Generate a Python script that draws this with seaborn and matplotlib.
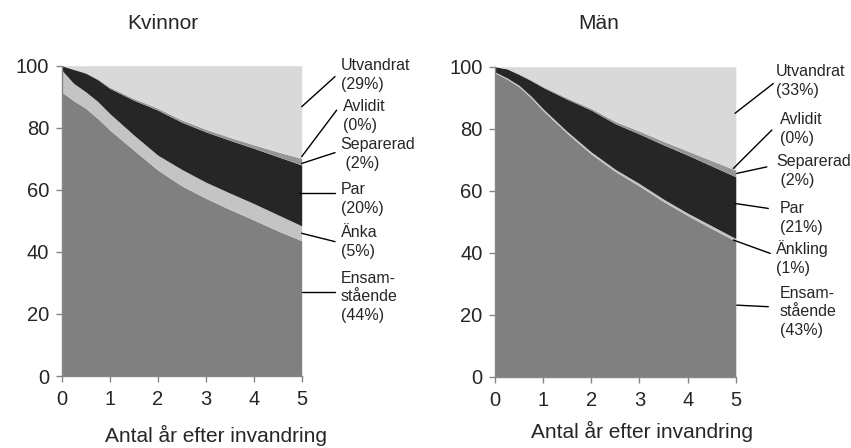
import matplotlib
matplotlib.use("Agg")
import matplotlib.pyplot as plt
import seaborn as sns

# years after immigration
years = [0, 0.25, 0.5, 0.75, 1, 1.5, 2, 2.5, 3, 3.5, 4, 4.5, 5]

# Kvinnor (percent of cohort)
kv_ensam = [91.5, 88.7, 86.3, 83.0, 79.3, 72.8, 66.4, 61.3, 57.3, 53.7, 50.3, 46.8, 43.6]
kv_anka = [7.1, 5.6, 5.3, 5.5, 5.3, 4.9, 4.8, 5.3, 5.2, 5.3, 5.3, 5.2, 4.8]
kv_par = [1.4, 4.5, 6.0, 7.0, 8.1, 11.2, 14.5, 15.2, 16.2, 17.0, 17.8, 18.7, 19.6]
kv_sep = [0.0, 0.1, 0.2, 0.3, 0.4, 0.5, 0.6, 0.7, 0.8, 0.9, 1.1, 1.5, 2.1]
kv_avl = [0.0, 0.0, 0.0, 0.0, 0.0, 0.1, 0.1, 0.1, 0.1, 0.1, 0.1, 0.1, 0.1]
kv_utv = [0.0, 1.1, 2.2, 4.2, 6.9, 10.5, 13.6, 17.4, 20.4, 23.0, 25.4, 27.7, 29.8]

# Män
ma_ensam = [98.0, 96.0, 93.5, 90.0, 85.8, 78.5, 71.8, 66.2, 61.5, 56.5, 52.0, 47.8, 43.7]
ma_ankl = [0.3, 0.4, 0.5, 0.5, 0.6, 0.6, 0.7, 0.7, 0.8, 0.8, 0.8, 0.9, 0.9]
ma_par = [1.7, 2.9, 3.5, 5.0, 6.9, 10.4, 13.5, 14.7, 16.0, 17.5, 18.7, 19.3, 19.9]
ma_sep = [0.0, 0.1, 0.2, 0.3, 0.3, 0.4, 0.5, 0.7, 0.9, 1.1, 1.3, 1.7, 2.1]
ma_avl = [0.0, 0.0, 0.0, 0.0, 0.0, 0.1, 0.1, 0.1, 0.1, 0.1, 0.1, 0.1, 0.1]
ma_utv = [0.0, 0.6, 2.3, 4.2, 6.4, 10.0, 13.4, 17.6, 20.7, 24.0, 27.1, 30.2, 33.3]

kv_labels = ["Utvandrat\n(29%)", "Avlidit\n(0%)", "Separerad\n (2%)", "Par\n(20%)",
             "Änka\n(5%)", "Ensam-\nstående\n(44%)"]
ma_labels = ["Utvandrat\n(33%)", "Avlidit\n(0%)", "Separerad\n (2%)", "Par\n(21%)",
             "Änkling\n(1%)", "Ensam-\nstående\n(43%)"]

colors = ["#808080", "#c4c4c4", "#262626", "#969696", "#b0b0b0", "#d9d9d9"]

sns.set_style("ticks")
plt.rcParams["font.family"] = ["Liberation Sans", "DejaVu Sans"]

fig = plt.figure(figsize=(8.51, 4.48), dpi=100)
ax1 = fig.add_axes([0.0725, 0.1607, 0.282, 0.6926])
ax2 = fig.add_axes([0.5817, 0.159, 0.2829, 0.692])

ax1.stackplot(years, kv_ensam, kv_anka, kv_par, kv_sep, kv_avl, kv_utv,
              colors=colors, linewidth=0)
ax2.stackplot(years, ma_ensam, ma_ankl, ma_par, ma_sep, ma_avl, ma_utv,
              colors=colors, linewidth=0)

# label positions in axes fraction: line start, line end, text
kv_lines = [((1.0, 0.868), (1.139, 0.965)), ((1.0, 0.707), (1.146, 0.857)),
            ((1.0, 0.685), (1.139, 0.720)), ((0.99, 0.589), (1.139, 0.589)),
            ((1.0, 0.460), (1.139, 0.433)), ((1.0, 0.272), (1.139, 0.272))]
kv_text = [(1.1625, 0.970), (1.171, 0.838), (1.1625, 0.715), (1.1625, 0.570),
           (1.1625, 0.432), (1.1625, 0.255)]
ma_lines = [((0.997, 0.850), (1.156, 0.946)), ((0.99, 0.672), (1.150, 0.796)),
            ((1.004, 0.656), (1.129, 0.677)), ((0.997, 0.559), (1.135, 0.543)),
            ((0.99, 0.441), (1.143, 0.398)), ((1.004, 0.231), (1.135, 0.226))]
ma_text = [(1.167, 0.954), (1.184, 0.799), (1.167, 0.664), (1.184, 0.512),
           (1.167, 0.383), (1.184, 0.209)]

for ax, labels, lines, texts in [(ax1, kv_labels, kv_lines, kv_text),
                                 (ax2, ma_labels, ma_lines, ma_text)]:
    ax.set_xlim(0, 5)
    ax.set_ylim(0, 100)
    ax.set_xticks(range(0, 6))
    ax.set_yticks(range(0, 101, 20))
    ax.tick_params(axis="both", labelsize=14.5, length=4, width=1, color="#868686",
                   direction="out")
    ax.tick_params(axis="x", pad=6)
    ax.tick_params(axis="y", pad=5)
    for s in ["top", "right"]:
        ax.spines[s].set_visible(False)
    for s in ["left", "bottom"]:
        ax.spines[s].set_color("#868686")
        ax.spines[s].set_linewidth(1)
    ax.margins(0)
    for lab, (p0, p1), (tx, ty) in zip(labels, lines, texts):
        ax.plot([p0[0], p1[0]], [p0[1], p1[1]], color="black", lw=1,
                transform=ax.transAxes, clip_on=False)
        ax.text(tx, ty, lab, transform=ax.transAxes, fontsize=11.5,
                ha="left", va="center", linespacing=1.28)

ax1.text(0.643, -0.193, "Antal år efter invandring", transform=ax1.transAxes,
         fontsize=15, ha="center", va="center")
ax2.text(0.611, -0.178, "Antal år efter invandring", transform=ax2.transAxes,
         fontsize=15, ha="center", va="center")
fig.text(0.1915, 0.947, "Kvinnor", fontsize=15, ha="center", va="center")
fig.text(0.704, 0.947, "Män", fontsize=15, ha="center", va="center")

fig.savefig("out.png", dpi=100)
